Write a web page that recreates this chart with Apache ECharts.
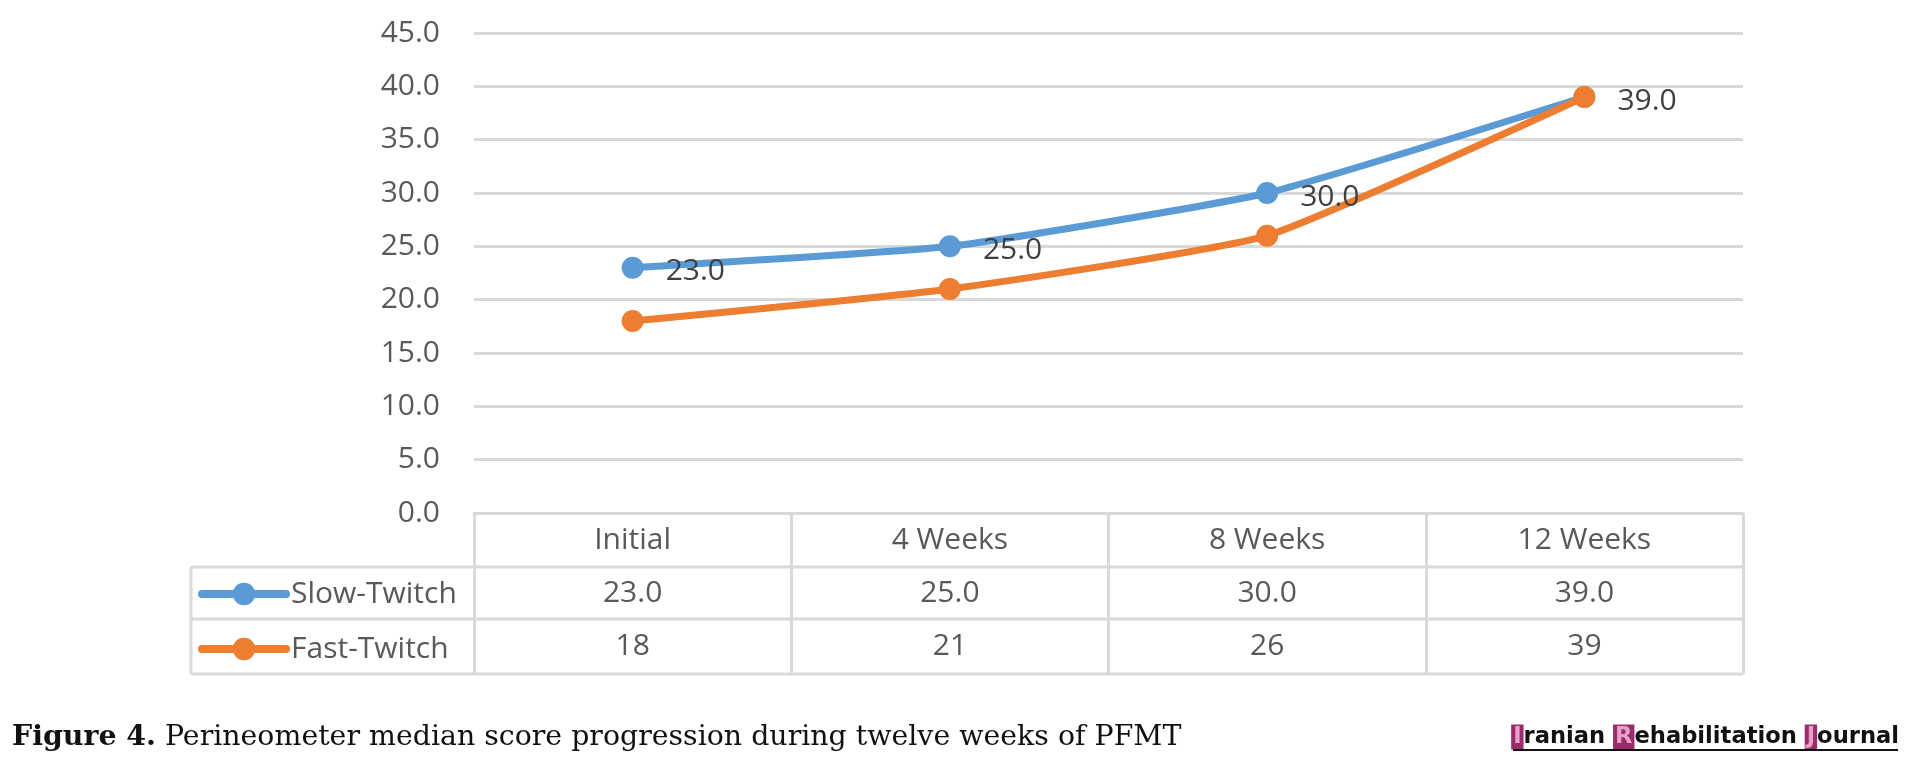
<!DOCTYPE html>
<html>
<head>
<meta charset="utf-8">
<script src="https://cdn.jsdelivr.net/npm/echarts@6/dist/echarts.min.js"></script>
<style>
  html, body { margin: 0; padding: 0; background: #ffffff; }
  #chart { width: 1907px; height: 772px; }
</style>
</head>
<body>
<div id="chart"></div>
<script>
// ---- data ----
const categories = ['Initial', '4 Weeks', '8 Weeks', '12 Weeks'];
const slowTwitch = [23, 25, 30, 39];
const fastTwitch = [18, 21, 26, 39];
const seriesNames = ['Slow-Twitch', 'Fast-Twitch'];
const yTicks = { min: 0, max: 45, interval: 5 };
const captionBold = 'Figure 4.';
const captionText = ' Perineometer median score progression during twelve weeks of PFMT';
const journalParts = [['I', 'ranian '], ['R', 'ehabilitation '], ['J', 'ournal']];

// ---- layout ----
const W = 1907, H = 772;
const gridL = 474, gridR = 1743, gridT = 33, gridB = 513;
const row1 = 567, row2 = 619, row3 = 674, tableL = 191;
const blue = '#5B9BD5', orange = '#ED7D31', gridCol = '#D9D9D9';
const sans = '"Open Sans", sans-serif';
const fs = 30;

function measure(font, text) {
  const c = document.createElement('canvas').getContext('2d');
  c.font = font;
  return c.measureText(text).width;
}
const capTarget = 1170;
const capW = measure('bold 20px "DejaVu Serif"', captionBold) + measure('20px "DejaVu Serif"', captionText);
const capFs = Math.min(30, 20 * capTarget / capW);
const jText = journalParts.map(p => p[0] + p[1]).join('');
const jTarget = 376;
const jFs = 20 * jTarget / measure('bold 20px "DejaVu Sans"', jText);

const chart = echarts.init(document.getElementById('chart'), null, { renderer: 'canvas' });

let richStr = '';
journalParts.forEach(p => { richStr += '{box|' + p[0] + '}{t|' + p[1] + '}'; });

const option = {
  backgroundColor: '#ffffff',
  animation: false,
  grid: { left: gridL, right: W - gridR, top: gridT, bottom: H - gridB, containLabel: false },
  legend: {
    orient: 'vertical',
    left: 198,
    top: 579,
    padding: 0,
    itemWidth: 84,
    itemHeight: 28,
    itemGap: 25,
    data: seriesNames,
    lineStyle: { width: 8 },
    textStyle: { fontFamily: sans, fontSize: fs, color: '#595959', lineHeight: 28 }
  },
  xAxis: [
    {
      type: 'category', data: categories, position: 'bottom',
      axisLine: { show: true, lineStyle: { color: gridCol, width: 3 } },
      axisTick: { show: true, interval: 0, length: row3 - gridB, lineStyle: { color: gridCol, width: 3 } },
      axisLabel: { interval: 0, fontFamily: sans, fontSize: fs, color: '#595959', margin: 27, verticalAlign: 'middle' },
      splitLine: { show: false }
    },
    {
      type: 'category', data: slowTwitch.map(v => v.toFixed(1)), position: 'bottom', offset: row1 - gridB,
      axisLine: { show: false }, axisTick: { show: false },
      axisLabel: { interval: 0, fontFamily: sans, fontSize: fs, color: '#595959', margin: 26, verticalAlign: 'middle' }
    },
    {
      type: 'category', data: fastTwitch.map(v => String(v)), position: 'bottom', offset: row2 - gridB,
      axisLine: { show: false }, axisTick: { show: false },
      axisLabel: { interval: 0, fontFamily: sans, fontSize: fs, color: '#595959', margin: 27, verticalAlign: 'middle' }
    }
  ],
  yAxis: {
    type: 'value', min: yTicks.min, max: yTicks.max, interval: yTicks.interval,
    axisLine: { show: false }, axisTick: { show: false },
    axisLabel: { formatter: v => v.toFixed(1), fontFamily: sans, fontSize: fs, color: '#595959', margin: 34 },
    splitLine: { lineStyle: { color: gridCol, width: 3 } }
  },
  series: [
    {
      name: seriesNames[0], type: 'line', data: slowTwitch, xAxisIndex: 0,
      smooth: 0.15, symbol: 'circle', symbolSize: 22,
      lineStyle: { color: blue, width: 7, cap: 'round' },
      itemStyle: { color: blue },
      label: { show: true, position: 'right', distance: 22, offset: [0, 4],
        formatter: p => p.value.toFixed(1), fontFamily: sans, fontSize: fs, color: '#404040' }
    },
    {
      name: seriesNames[1], type: 'line', data: fastTwitch, xAxisIndex: 0,
      smooth: 0.15, symbol: 'circle', symbolSize: 22,
      lineStyle: { color: orange, width: 7, cap: 'round' },
      itemStyle: { color: orange }
    }
  ],
  graphic: [
    { type: 'line', shape: { x1: tableL, y1: row1, x2: gridR, y2: row1 }, style: { stroke: gridCol, lineWidth: 3 }, z: 1 },
    { type: 'line', shape: { x1: tableL, y1: row2, x2: gridR, y2: row2 }, style: { stroke: gridCol, lineWidth: 3 }, z: 1 },
    { type: 'line', shape: { x1: tableL, y1: row3, x2: gridR, y2: row3 }, style: { stroke: gridCol, lineWidth: 3 }, z: 1 },
    { type: 'line', shape: { x1: tableL, y1: row1, x2: tableL, y2: row3 }, style: { stroke: gridCol, lineWidth: 3 }, z: 1 },
    {
      type: 'text', left: 12, top: 751 - capFs * 0.95,
      style: {
        text: '{b|' + captionBold + '}{n|' + captionText + '}',
        rich: {
          b: { fontFamily: '"DejaVu Serif", serif', fontWeight: 'bold', fontSize: capFs, fill: '#111111' },
          n: { fontFamily: '"DejaVu Serif", serif', fontSize: capFs, fill: '#111111' }
        }
      }
    },
    {
      type: 'text', right: 8, top: 746 - jFs * 0.95,
      style: {
        text: richStr,
        rich: {
          box: { fontFamily: '"DejaVu Sans", sans-serif', fontWeight: 'bold', fontSize: jFs, fill: '#E6A2C6', backgroundColor: '#9B2C6B', padding: [1, 2, 1, 2] },
          t: { fontFamily: '"DejaVu Sans", sans-serif', fontWeight: 'bold', fontSize: jFs, fill: '#111111' }
        }
      }
    },
    { type: 'line', shape: { x1: 1513, y1: 750, x2: 1898, y2: 750 }, style: { stroke: '#111111', lineWidth: 2 } }
  ]
};
chart.setOption(option);
</script>
</body>
</html>
